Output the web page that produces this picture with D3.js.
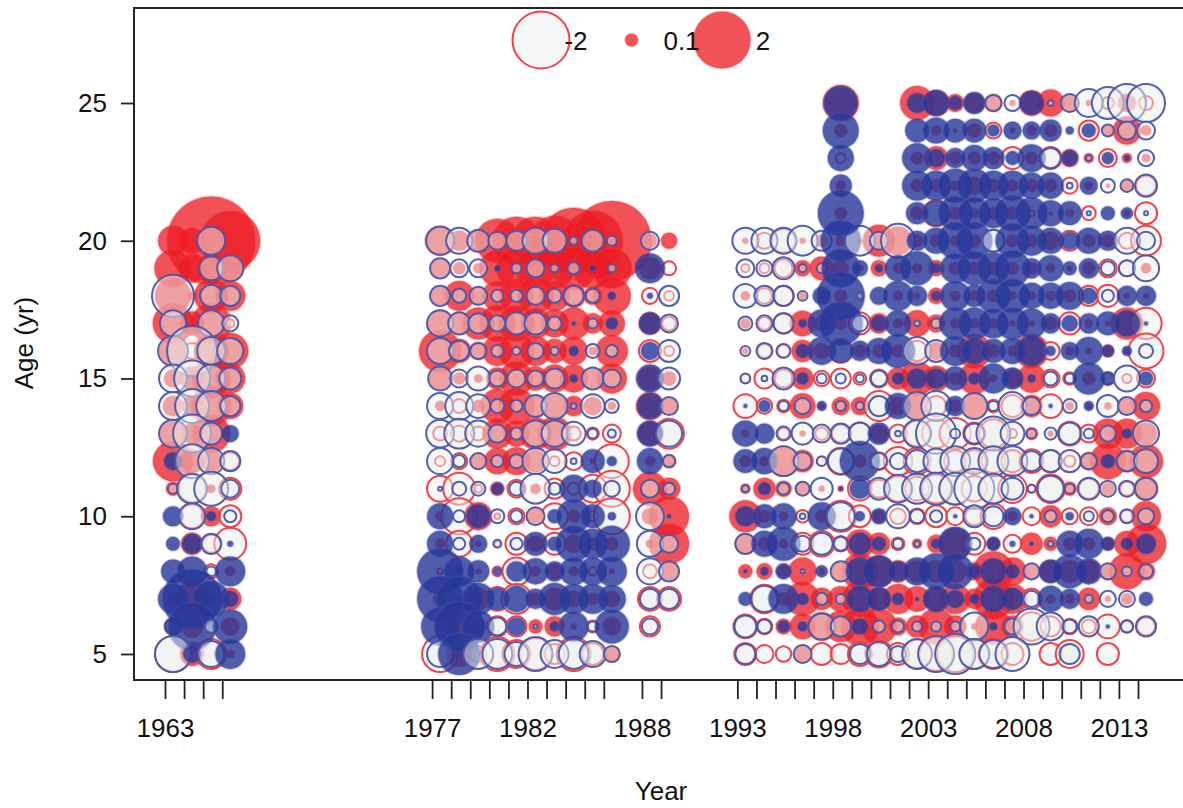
<!DOCTYPE html>
<html><head><meta charset="utf-8">
<style>html,body{margin:0;background:#fff}svg{display:block}text{font-family:"Liberation Sans",Arial,sans-serif;fill:#111}</style>
<script src="https://cdn.jsdelivr.net/npm/d3@7"></script></head><body>
<svg id="c" width="1183" height="808"></svg>
<script>
const tickYears=[1963,1964,1965,1966,1977,1978,1979,1980,1981,1982,1983,1984,1985,1986,1988,1989,1993,1994,1995,1996,1997,1998,1999,2000,2001,2002,2003,2004,2005,2006,2007,2008,2009,2010,2011,2012,2013,2014];
const labelYears=[1963,1977,1982,1988,1993,1998,2003,2008,2013];
const ageTicks=[5,10,15,20,25];
const legendValues=[-2,0.1,2];
const agesA=[20,19,18,17,16,15,14,13,12,11,10,9,8,7,6,5];
const agesB=[25,24,23,22,21];
const yearsA=[1963,1964,1965,1966];
const yearsB=[1977,1978,1979,1980,1981,1982,1983,1984,1985,1986,1988,1989];
const yearsC=d3.range(1993,2015);
const yearsD=[1998,1999,2000,2001,2002,2003,2004,2005,2006,2007,2008,2009,2010,2011,2012,2013,2014];
const redA=[
[.55,.4,4.8,2.2],[.85,.5,.55,.42],[.8,.04,.71,.55],[1,.35,1,-.04],[.48,-.16,.71,.8],[.2,.35,.89,.55],[.25,.25,.99,.42],[.42,.25,.89,0],
[.99,.35,.3,-.2],[.12,-.48,.04,-.3],[0,-.35,.25,-.3],[0,.3,-.2,-.63],[0,0,-.12,.06],[.06,.71,.06,.3],[-.16,.3,-.1,.2],[-.8,.35,-.55,.04]];
const blueA=[
[0,0,-.48,0],[0,0,-.35,-.42],[-1.09,0,-.3,-.25],[-.42,0,-.42,-.16],[-.55,-1.54,-.48,-.42],[-.48,-.8,-.48,-.3],[-.48,-.71,-.55,-.25],[-.48,-.89,-.3,.18],
[.2,-.71,-.42,-.25],[-.06,-.55,-.71,-.2],[.25,-.42,.06,-.09],[.12,.25,-.25,.02],[.35,.55,-.06,.55],[.55,2.2,.8,.16],[.2,1.42,-.1,.71],[-.8,.2,-.42,.55]];
const redB=[
[.55,.25,.3,1.19,1.42,1.42,1.54,2.7,2.2,3.9,.12,.16],
[.2,.09,.06,.8,.99,.99,.99,1.19,.99,.99,.3,-.12],
[.2,.55,.2,.55,.71,.8,.55,.35,.2,.89,-.16,-.06],
[.42,.3,.63,.8,.8,.55,.48,.63,.25,.42,.3,-.12],
[1.09,.35,.2,.55,.8,.55,.35,.48,.04,.63,-.3,-.06],
[.3,.09,.04,.3,.71,.35,.48,.48,.25,.55,.35,.12],
[.06,-.12,.09,.71,.8,.3,.35,.25,.2,.04,.48,.16],
[-.12,-.16,-.12,.55,.42,.63,.71,-.12,-.09,-.2,.35,-.55],
[-.06,-.16,.16,.42,.48,.3,-.06,-.2,.02,-.71,.06,.12],
[-.42,-.63,-.04,.12,-.2,.06,-.25,-.09,-.48,-.8,.71,.3],
[.06,-.8,.48,-.02,-.16,.2,-.42,.1,-.06,-.8,.16,.99],
[.06,-.42,.02,-.02,-.3,.16,-.3,.2,.1,.1,.04,.99],
[-.02,.04,.02,-.06,-.48,.06,.16,.06,-.04,.02,-.12,.2],
[.12,.02,.3,-.35,-.55,.09,.3,.16,.09,.16,-.35,-.35],
[-.02,.48,.16,-.25,-.25,.12,.25,.02,-.09,.2,-.25,0],
[-.8,.42,-.16,-.71,-.48,-.63,-.25,-.71,-.3,.16,0,0]];
const blueB=[
[-.48,-.42,-.3,-.2,-.25,-.42,-.35,-.04,-.3,-.06,-.2,0],
[-.25,-.2,-.2,.02,-.06,-.2,-.04,-.09,.02,-.04,.55,0],
[-.25,-.12,-.2,-.09,-.09,-.2,-.12,-.25,-.12,.04,.02,-.25],
[-.42,-.3,-.25,-.16,-.3,-.3,-.12,.01,-.06,.09,.3,-.2],
[-.42,-.25,-.16,-.09,-.04,-.16,-.04,.06,-.12,-.09,.2,-.3],
[-.35,-.2,-.35,-.16,-.2,-.16,-.25,.04,-.3,-.2,.48,-.3],
[-.42,-.48,-.35,-.12,-.09,-.3,-.42,-.02,-.35,-.12,.42,-.2],
[-.48,-.55,-.42,-.2,-.09,-.42,-.42,-.35,-.06,-.04,.42,-.42],
[-.42,-.09,-.16,-.09,-.12,-.42,-.35,-.02,.35,.06,.42,-.09],
[-.01,-.12,-.12,.09,-.12,-.55,-.09,.48,.2,-.16,-.2,-.09],
[.42,-.09,.35,-.12,-.09,-.2,.12,.71,.35,.04,-.48,.01],
[.42,-.09,.2,-.04,-.09,.35,.12,.8,.55,.8,-.42,-.2],
[1.3,.55,.3,.04,.25,.42,.25,.48,.48,.55,-.42,-.25],
[1.3,1.3,.63,.3,.42,.25,.63,.55,.55,.48,-.25,-.25],
[.89,1.54,.63,-.2,.2,-.01,.06,.55,-.06,.71,-.16,0],
[-.42,1.09,-.55,-.55,-.35,-.71,-.48,-.55,-.42,-.16,0,0]];
const redC=[
[.02,-.16,-.35,.02,.1,.06,.01,.63,.5,.1,.1,.06,.1,-.3,.1,.1,.2,-.25,.1,.1,-.16,-.55],
[-.04,-.06,-.2,.16,.35,.16,.03,.16,.06,.06,.16,.1,.1,.1,.1,.1,.05,.02,.1,-.2,-.16,.06],
[.05,-.15,-.25,.03,.02,.1,.04,0,.06,.02,.16,.06,.06,.1,.04,.04,.06,.1,-.25,-.3,.02,.02],
[.06,-.1,-.25,.4,.15,.1,-.3,.25,.06,.42,.2,.06,.06,.06,.02,.02,.1,-.3,.04,.02,.63,-.6],
[.02,-.12,-.1,.3,.15,-.35,.1,.1,.1,-.25,.2,.1,.71,.1,.06,.71,-.2,.05,.02,.1,.02,-.75],
[-.05,-.25,-.2,.3,-.15,-.25,-.1,-.2,.3,.7,.4,.1,.6,.03,.2,.5,-.2,-.1,.1,-.1,-.05,-.2],
[-.35,-.15,-.1,.4,.02,.2,.2,-.55,.2,.4,-.25,.1,.4,-.1,-.3,.3,-.35,.04,.02,.03,.2,.48],
[.03,0,-.08,.02,-.1,-.2,-.3,.2,-.2,-.4,-.5,-.6,-.3,-.5,-.05,.1,.02,-.35,-.2,.55,.55,.3],
[.08,.06,.55,.3,-.05,-.45,.1,-.2,-.5,-.45,-.35,-.3,-.3,-.35,-.3,-.35,-.3,-.08,.2,.8,.3,.71],
[.06,.3,.16,.12,.02,.02,-.35,-.2,-.4,-.35,-.5,-.6,-.4,-.5,-.5,-.04,-.5,.12,-.25,.1,-.12,.35],
[.63,.1,.05,-.1,.1,-.6,-.3,.1,-.15,-.15,-.3,-.2,-.2,-.4,.06,-.2,.3,-.16,-.2,.2,-.1,.55],
[.25,.1,.05,-.3,-.4,-.15,.5,.3,-.1,.06,.2,.6,-.3,.1,-.2,.3,.12,.1,.1,.1,.4,1],
[.12,.16,.1,.48,.02,.2,.8,.6,.3,.3,.3,.3,.2,1,.48,.16,.3,.3,.3,.16,.8,.2],
[0,-.5,.1,.71,.3,.4,.8,.3,.55,.4,.3,.55,.25,1,.55,-.25,.05,.06,.3,.02,.08,0],
[-.35,-.15,.15,.4,.5,.6,.9,.8,.2,.3,.8,.3,.02,.8,.3,-.5,-.25,-.15,-.12,-.35,-.1,-.2],
[-.3,-.2,-.15,.2,-.3,-.25,-.35,-.45,-.3,-.5,-.7,-.8,-.55,-.55,-.3,0,-.3,-.48,0,-.3,0,0]];
const blueC=[
[-.42,-.42,-.42,-.55,-.25,.99,-.55,-.2,-.71,.25,.42,.8,.8,-.3,.71,.55,.42,.2,.42,.25,-.42,-.2],
[-.2,-.16,-.3,-.04,-.06,.89,.16,.04,.42,.71,.06,.55,.71,.63,.8,.25,.42,.12,.25,-.12,-.16,-.42],
[-.35,-.25,-.25,-.06,.2,1.42,-.02,.2,.55,.25,.06,.55,.3,.71,.71,.42,.42,.48,.16,-.09,.25,.25],
[-.12,-.16,-.25,.04,.48,1.19,-.16,.16,.42,-.02,-.06,.63,.63,.55,.63,.55,.25,.16,.25,.35,.42,.01],
[-.06,-.16,-.12,.12,.48,.35,.25,.42,.71,-.48,-.3,.55,.42,.35,.42,.55,.06,.2,.48,.09,.06,-.12],
[-.06,-.02,-.3,.09,-.06,-.06,-.04,-.16,.09,.25,.25,.35,.09,.55,.3,.04,-.12,-.06,.63,.12,-.42,.12],
[.01,.09,-.06,-.16,.06,-.06,-.04,-.25,.42,-.48,-.55,.25,-.42,-.06,-.48,-.2,.01,-.12,.06,-.3,-.2,-.09],
[.42,.25,-.12,-.3,-.2,-.25,-.3,.3,-.02,-.48,-1,-.06,-.25,-.71,-.35,-.06,-.09,-.3,-.06,-.16,.06,-.42],
[.35,.42,-.55,-.2,-.06,-.4,.99,-.16,-.16,-.3,-.4,-.55,-.42,-.55,-.55,-.25,-.3,-.3,-.16,.12,-.25,-.35],
[-.03,.1,-.09,-.12,-.3,.01,.25,-.3,-.48,-.55,-.63,-.63,-.99,-.55,-.3,-.04,-.42,-.06,-.3,-.16,-.16,-.3],
[.25,.35,.42,-.02,.48,-.48,.06,.16,-.35,-.12,-.09,.01,-.3,-.25,.2,.01,-.09,.04,-.06,-.09,-.12,-.16],
[-.25,.42,.71,-.16,-.3,-.12,.3,.12,-.06,-.02,.06,.71,-.09,.12,.02,.01,-.02,.42,.55,.12,.09,.25],
[.01,.04,.16,-.01,.09,-.25,.48,.63,.25,.48,.8,.8,.12,.42,.12,-.16,.35,.71,.42,-.16,-.06,-.12],
[.12,-.42,.55,.09,-.09,-.06,.42,.35,.09,.01,.42,.2,.06,.42,.3,-.16,.42,.25,-.04,-.16,-.16,.12],
[-.3,-.12,.09,.06,-.42,-.25,.16,-.09,-.09,-.06,-.06,-.06,-.48,.04,-.16,-.8,-.48,-.12,-.25,.01,-.09,-.25],
[-.25,0,0,-.2,0,0,-.25,-.35,-.16,-.55,-.8,-.99,-.55,-.48,-.71,0,0,-.25,0,0,0,0]];
const redD=[
[.8,0,0,0,.71,.42,.2,.25,.2,.02,.4,.45,.2,.02,-.09,.2,-.12],
[.1,0,0,0,0,.06,.01,.12,-.16,.02,.06,.1,0,-.25,.09,.48,.06],
[-.06,0,0,0,.1,.35,.1,.1,.1,-.3,.1,-.3,.2,.06,-.2,.06,.04],
[.06,0,0,0,.1,.1,.06,.2,.1,.08,.1,.1,-.16,.04,.01,.09,-.25],
[.09,0,0,0,.1,-.42,.1,.06,.1,.1,-.02,.01,.04,-.12,0,.02,-.3]];
const blueD=[
[.71,0,0,0,.25,.42,.12,.3,-.16,-.16,.35,-.02,-.2,-.48,-.63,-.89,-.89],
[.8,0,0,0,.35,.42,.35,.35,.09,.2,.2,.3,.04,.12,-.09,-.2,-.2],
[.42,0,0,0,.55,.2,.25,.42,.3,.12,.48,-.25,.16,-.02,.09,.02,-.16],
[.3,0,0,0,.55,.55,.71,.71,.55,.55,.42,.42,-.02,.2,-.12,-.1,-.3],
[1.3,0,0,0,.3,.42,.71,.63,.55,.8,.63,.42,.35,-.01,.12,.09,-.01]];

const flat=(ys,as,m)=>as.flatMap((a,i)=>ys.map((y,j)=>({year:y,age:a,v:m[i][j]}))).filter(d=>d.v!==0);
const redPts=[flat(yearsA,agesA,redA),flat(yearsB,agesA,redB),flat(yearsC,agesA,redC),flat(yearsD,agesB,redD)].flat();
const bluePts=[flat(yearsA,agesA,blueA),flat(yearsB,agesA,blueB),flat(yearsC,agesA,blueC),flat(yearsD,agesB,blueD)].flat();

const box={l:134,t:8,r:1183,b:680};
const x=d3.scaleLinear().domain([1963,2014]).range([165,1138]);
const y=d3.scaleLinear().domain([5,25]).range([654,103]);
const r=d3.scaleSqrt().domain([0,2]).range([0,28.5]);
const midYear=0.42;
const RED={fill:"#ed1c24",op:.76,stroke:"#ef3a40"},BLUE={fill:"#28389a",op:.81,stroke:"#4b56a8"};
const NEG="#ecefee",NEGOP=.5;
const svg=d3.select("#c");
svg.append("defs").append("clipPath").attr("id","plot").append("rect").attr("x",box.l).attr("y",box.t).attr("width",box.r-box.l).attr("height",box.b-box.t);
const plot=svg.append("g").attr("clip-path","url(#plot)");
function bubbles(g,data,col,cx,cy){
  g.selectAll("circle").data(data).join("circle")
   .attr("cx",cx).attr("cy",cy).attr("r",d=>r(Math.abs(d.v)))
   .attr("fill",d=>d.v>0?col.fill:NEG).attr("fill-opacity",d=>d.v>0?col.op:NEGOP)
   .attr("stroke",col.stroke).attr("stroke-opacity",d=>d.v>0?.3:.95).attr("stroke-width",2);
}
const px=d=>x(d.year+midYear),py=d=>y(d.age);
bubbles(plot.append("g"),redPts,RED,px,py);
bubbles(plot.append("g"),bluePts,BLUE,px,py);

svg.append("path").attr("d",`M${box.r},${box.b}H${box.l}V${box.t}H${box.r}`).attr("fill","none").attr("stroke","#222").attr("stroke-width",2);

const gx=svg.append("g").attr("transform",`translate(0,${box.b})`)
 .call(d3.axisBottom(x).tickValues(tickYears).tickSize(19).tickPadding(20).tickFormat(d=>labelYears.includes(d)?d:""));
const gy=svg.append("g").attr("transform",`translate(${box.l},0)`)
 .call(d3.axisLeft(y).tickValues(ageTicks).tickSize(13).tickPadding(14));
[gx,gy].forEach(g=>{g.select(".domain").remove();g.selectAll("line").attr("stroke","#222").attr("stroke-width",1.8);g.selectAll("text").attr("font-size",26).attr("font-family",'"Liberation Sans",Arial,sans-serif').attr("fill","#111");});
svg.append("text").attr("x",661).attr("y",800).attr("text-anchor","middle").attr("font-size",26).text("Year");
svg.append("text").attr("transform","translate(33,343) rotate(-90)").attr("text-anchor","middle").attr("font-size",26).text("Age (yr)");

const lx=d3.scalePoint().domain(legendValues).range([541,722]);
const lg=svg.append("g");
bubbles(lg,legendValues.map(v=>({v})),RED,d=>lx(d.v),()=>40);
lg.selectAll("text").data(legendValues).join("text").attr("x",d=>lx(d)+(d===0.1?50:d===2?41:35)).attr("y",50).attr("text-anchor","middle").attr("font-size",26).text(d=>d);
</script></body></html>
